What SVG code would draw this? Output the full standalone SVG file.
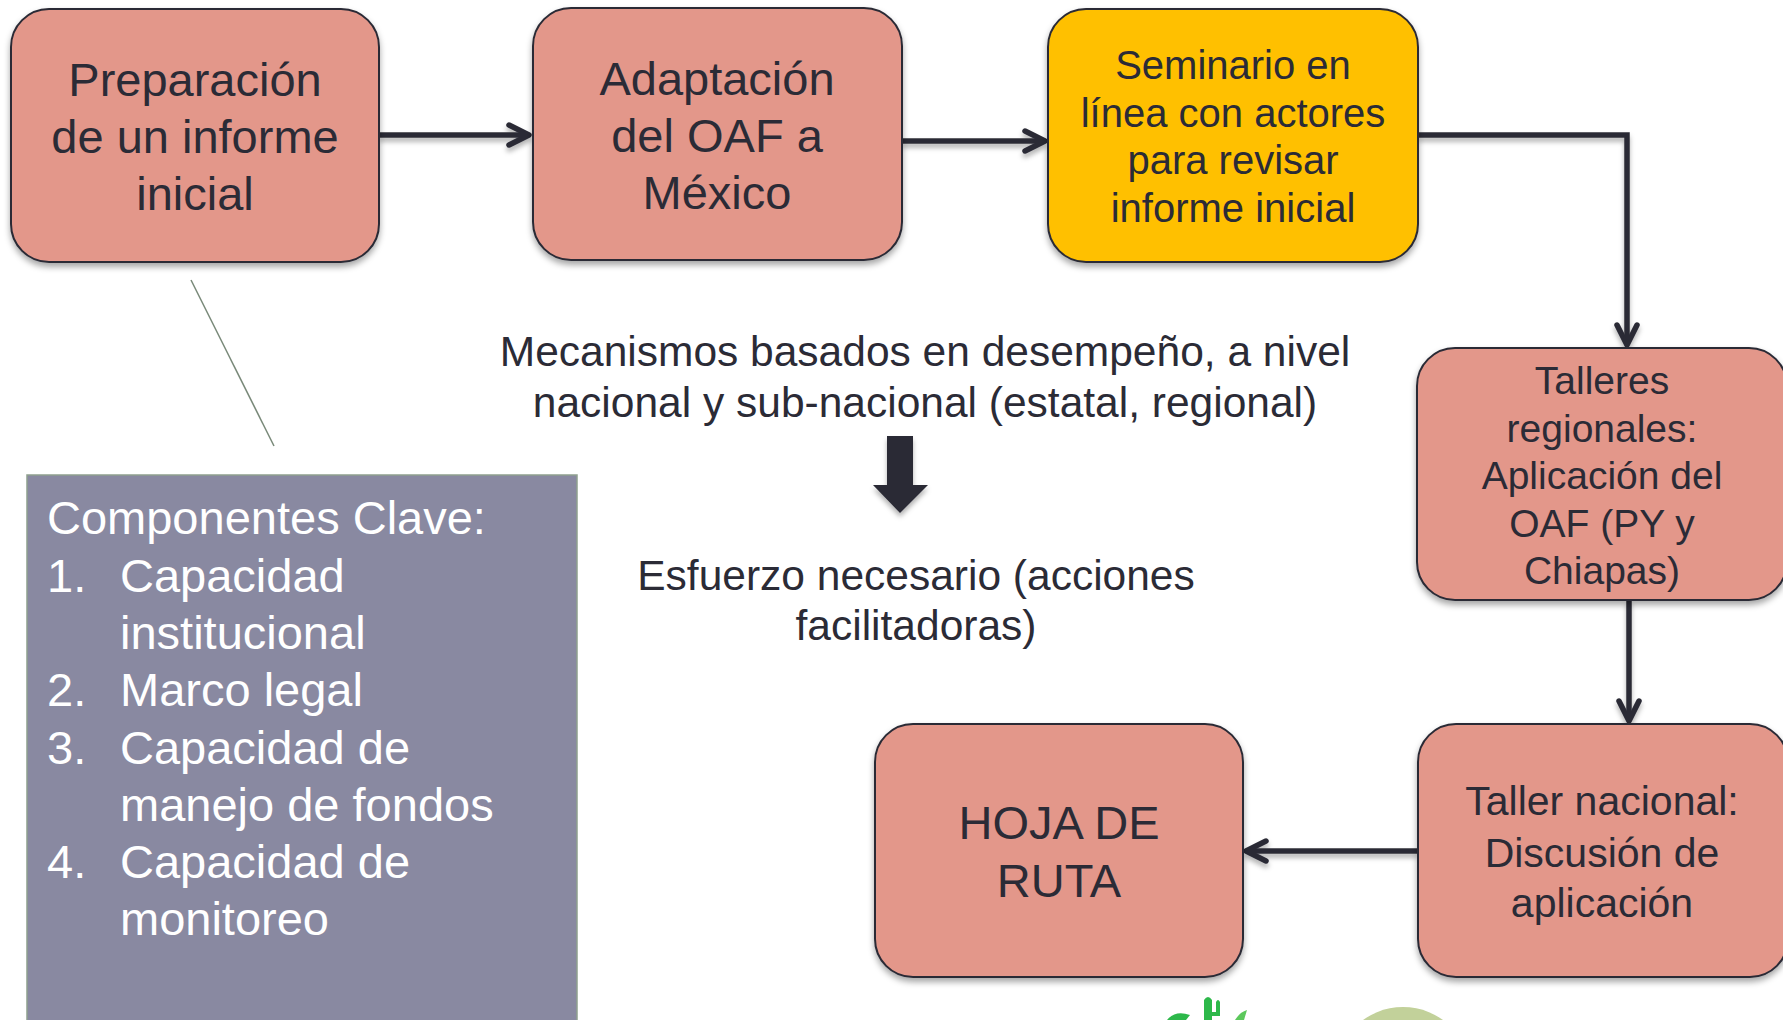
<svg xmlns="http://www.w3.org/2000/svg" width="1783" height="1020" viewBox="0 0 1783 1020">
<style>
  .box { fill: #E3978A; stroke: #2B2B36; stroke-width: 2; filter: url(#sh); }
  .yel { fill: #FFC000; stroke: #2B2B36; stroke-width: 2; filter: url(#sh); }
  .t { font-family: "Liberation Sans", Arial, sans-serif; fill: #2B2B36; text-anchor: middle; }
  .w { font-family: "Liberation Sans", Arial, sans-serif; fill: #FFFFFF; }
  .con { fill: none; stroke: #2B2B36; stroke-width: 5.5; marker-end: url(#ah); filter: url(#sh2); }
</style>
<defs>
  <filter id="sh" x="-10%" y="-10%" width="120%" height="125%">
    <feDropShadow dx="0" dy="4" stdDeviation="3" flood-color="#000" flood-opacity="0.35"/>
  </filter>
  <filter id="sh2" filterUnits="userSpaceOnUse" x="0" y="0" width="1783" height="1020">
    <feDropShadow dx="0" dy="4" stdDeviation="2.5" flood-color="#000" flood-opacity="0.3"/>
  </filter>
  <marker id="ah" viewBox="0 0 26 26" refX="23" refY="13" markerWidth="26" markerHeight="26" markerUnits="userSpaceOnUse" orient="auto">
    <path d="M3,3 L23,13 L3,23" fill="none" stroke="#2B2B36" stroke-width="5.5" stroke-linecap="round" stroke-linejoin="round"/>
  </marker>
</defs>

<g id="connectors">
  <path class="con" d="M379,135 L529,135"/>
  <path class="con" d="M902,141 L1045,141"/>
  <path class="con" d="M1418,135 L1627,135 L1627,345"/>
  <path class="con" d="M1629,600 L1629,721"/>
  <path class="con" d="M1418,851 L1246,851"/>
  <line x1="191" y1="280" x2="274" y2="446" stroke="#7A8A7A" stroke-width="1.5"/>
  <path d="M887,436 L913,436 L913,485 L928,485 L900,513 L873,485 L887,485 Z" fill="#2B2B36" filter="url(#sh2)"/>
</g>

<g id="n1">
  <rect class="box" x="11" y="9" width="368" height="253" rx="38" ry="38"/>
  <text class="t" font-size="47"><tspan x="195" y="96">Preparación</tspan><tspan x="195" y="153">de un informe</tspan><tspan x="195" y="210">inicial</tspan></text>
</g>
<g id="n2">
  <rect class="box" x="533" y="8" width="369" height="252" rx="38" ry="38"/>
  <text class="t" font-size="47"><tspan x="717" y="95">Adaptación</tspan><tspan x="717" y="152">del OAF a</tspan><tspan x="717" y="209">México</tspan></text>
</g>
<g id="n3">
  <rect class="yel" x="1048" y="9" width="370" height="253" rx="38" ry="38"/>
  <text class="t" font-size="40"><tspan x="1233" y="79">Seminario en</tspan><tspan x="1233" y="127">línea con actores</tspan><tspan x="1233" y="174">para revisar</tspan><tspan x="1233" y="222">informe inicial</tspan></text>
</g>
<g id="n4">
  <rect class="box" x="1417" y="348" width="370" height="252" rx="38" ry="38"/>
  <text class="t" font-size="39"><tspan x="1602" y="394">Talleres</tspan><tspan x="1602" y="442">regionales:</tspan><tspan x="1602" y="489">Aplicación del</tspan><tspan x="1602" y="537">OAF (PY y</tspan><tspan x="1602" y="584">Chiapas)</tspan></text>
</g>
<g id="n5">
  <rect class="box" x="1418" y="724" width="370" height="253" rx="38" ry="38"/>
  <text class="t" font-size="41"><tspan x="1602" y="815">Taller nacional:</tspan><tspan x="1602" y="867">Discusión de</tspan><tspan x="1602" y="917">aplicación</tspan></text>
</g>
<g id="n6">
  <rect class="box" x="875" y="724" width="368" height="253" rx="38" ry="38"/>
  <text class="t" font-size="47"><tspan x="1059" y="839">HOJA DE</tspan><tspan x="1059" y="897">RUTA</tspan></text>
</g>

<g id="mecanismos">
  <text class="t" font-size="42.5"><tspan x="925" y="366">Mecanismos basados en desempeño, a nivel</tspan><tspan x="925" y="417">nacional y sub-nacional (estatal, regional)</tspan></text>
</g>
<g id="esfuerzo">
  <text class="t" font-size="42.5"><tspan x="916" y="590">Esfuerzo necesario (acciones</tspan><tspan x="916" y="640">facilitadoras)</tspan></text>
</g>

<g id="componentes">
  <rect x="27" y="475" width="550" height="560" fill="#8989A1" stroke="#8FA08F" stroke-width="1.5"/>
  <text class="w" font-size="47">
    <tspan x="47" y="534">Componentes Clave:</tspan>
    <tspan x="47" y="592">1.</tspan><tspan x="120" y="592">Capacidad</tspan>
    <tspan x="120" y="649">institucional</tspan>
    <tspan x="47" y="706">2.</tspan><tspan x="120" y="706">Marco legal</tspan>
    <tspan x="47" y="764">3.</tspan><tspan x="120" y="764">Capacidad de</tspan>
    <tspan x="120" y="821">manejo de fondos</tspan>
    <tspan x="47" y="878">4.</tspan><tspan x="120" y="878">Capacidad de</tspan>
    <tspan x="120" y="935">monitoreo</tspan>
  </text>
</g>

<g id="logos">
  <path d="M1204,1020 L1204,1000 Q1208,994 1212,1000 L1212,1020 Z" fill="#2DB84A"/>
  <path d="M1212,1012 L1216,1012 L1216,1002 Q1218,998 1220,1002 L1220,1016 L1212,1016 Z" fill="#2DB84A"/>
  <path d="M1167,1020 Q1175,1010 1190,1015 L1186,1020 Z" fill="#2DB84A"/>
  <path d="M1235,1020 Q1240,1012 1247,1010 L1244,1020 Z" fill="#5CC85C"/>
  <circle cx="1403" cy="1075" r="68" fill="#C2D19A"/>
</g>
</svg>
